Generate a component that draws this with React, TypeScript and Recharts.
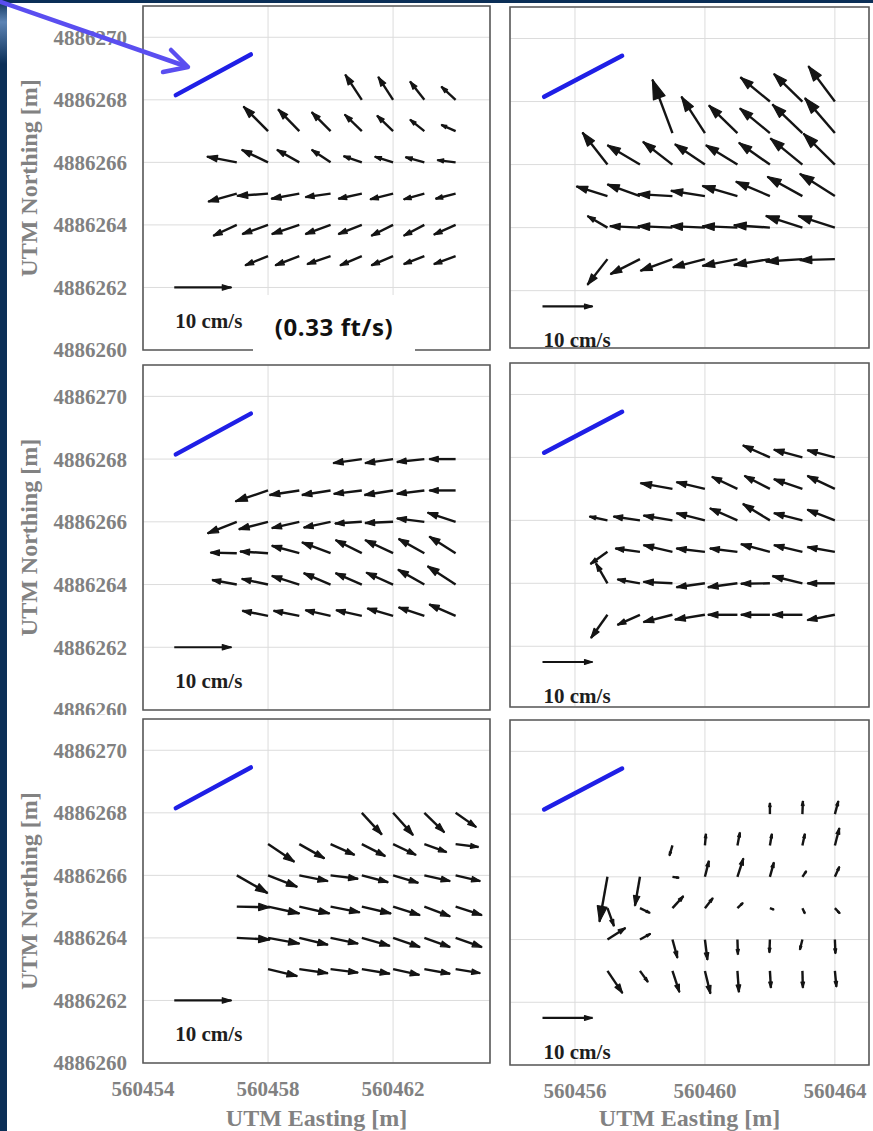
import React from "react";
import {
  ScatterChart,
  Scatter,
  XAxis,
  YAxis,
  CartesianGrid,
  ReferenceLine,
  ReferenceArea,
} from "recharts";

// measurement rows (northing, top to bottom); every row ends at LAST_EASTING, 1 m apart
const ROW_NORTHING = [4886268, 4886267, 4886266, 4886265, 4886264, 4886263];
const LAST_EASTING = 560464;

// velocity components in cm/s (east u, north v), one row per northing
const P1_U = [
  [-2.9, -2.6, -2.5, -2.5],
  [-4.3, -3.7, -3.3, -3.0, -2.8, -2.5, -2.5],
  [-5.2, -4.6, -3.9, -3.3, -3.2, -3.2, -3.3, -3.2],
  [-5.0, -5.4, -4.9, -4.4, -4.1, -4.0, -3.6, -3.5],
  [-4.1, -4.5, -4.8, -4.4, -4.1, -3.8, -3.6, -3.8],
  [-4.0, -4.2, -4.1, -3.8, -3.8, -3.6, -3.8],
];
const P1_V = [
  [4.4, 4.0, 3.2, 2.3],
  [4.3, 3.8, 3.3, 2.9, 2.7, 2.0, 1.1],
  [1.0, 2.2, 2.2, 2.2, 1.1, 1.0, 0.9, 0.4],
  [-1.4, -0.4, -0.9, -0.6, -0.9, -1.0, -1.0, -0.9],
  [-1.9, -1.6, -1.6, -1.6, -1.6, -1.9, -1.9, -1.7],
  [-1.6, -1.6, -1.4, -1.6, -1.6, -1.4, -1.4],
];

const P2_U = [
  [-5.9, -5.7, -5.3],
  [-4.0, -4.7, -5.7, -6.0, -6.0, -6.0],
  [-5.0, -6.5, -5.9, -6.0, -6.3, -6.2, -6.4, -6.3],
  [-6.2, -6.5, -6.9, -6.8, -7.0, -6.8, -7.0, -7.0],
  [-4.0, -6.0, -6.9, -6.8, -7.0, -7.2, -7.3, -7.3],
  [-4.0, -5.9, -6.4, -6.4, -7.0, -7.2, -7.3, -7.0],
];
const P2_V = [
  [5.0, 5.7, 7.3],
  [11.0, 7.5, 5.7, 5.1, 5.9, 7.2],
  [6.6, 4.0, 4.7, 4.2, 4.0, 4.5, 5.4, 6.4],
  [2.0, 2.4, 0.4, 1.1, 2.1, 3.0, 4.0, 4.6],
  [2.4, 0.3, 0.3, 0.3, 0.3, 0.5, 2.4, 2.4],
  [-5.3, -3.1, -2.4, -1.7, -1.4, -1.2, -0.5, -0.2],
];

const P3_U = [
  [-5.0, -4.9, -4.8, -4.6],
  [-5.7, -5.2, -5.0, -4.9, -5.0, -4.8, -4.6],
  [-5.1, -5.1, -4.8, -4.7, -4.7, -4.9, -4.8, -4.9],
  [-4.6, -4.9, -4.8, -5.0, -4.6, -4.9, -4.5, -4.6],
  [-4.3, -4.6, -4.8, -4.7, -4.6, -4.7, -4.6, -4.9],
  [-4.5, -4.5, -4.4, -4.5, -4.5, -4.5, -4.6],
];
const P3_V = [
  [-0.7, -0.7, -0.5, 0],
  [-1.9, -0.8, -0.8, -0.6, -0.8, -0.6, 0],
  [-2.0, -1.3, -1.1, -1.0, -0.3, -0.2, 0.6, 1.6],
  [0.1, 0.3, 1.3, 1.9, 2.3, 2.3, 2.5, 2.9],
  [0.8, 1.0, 1.5, 2.0, 2.0, 2.1, 2.6, 3.2],
  [0.9, 0.9, 1.0, 1.0, 1.3, 1.5, 2.0],
];

const P4_U = [
  [-5.4, -5.7, -5.5],
  [-6.4, -5.7, -5.1, -5.1, -5.7, -5.5],
  [-3.6, -5.3, -5.8, -5.7, -5.5, -5.4, -5.7, -5.5],
  [-3.4, -4.9, -5.8, -5.7, -5.5, -5.8, -5.7, -5.5],
  [-2.3, -4.5, -5.8, -5.7, -5.9, -5.8, -6.0, -5.5],
  [-3.3, -4.5, -5.8, -6.0, -5.9, -5.8, -6.0, -5.5],
];
const P4_V = [
  [2.5, 1.6, 1.5],
  [1.2, 1.4, 2.5, 2.7, 2.0, 2.7],
  [0.8, 0.8, 1.0, 1.5, 2.5, 3.4, 1.5, 2.2],
  [-2.5, 0.7, 1.4, 0.7, 0.7, 1.6, 1.4, 1.0],
  [4.1, 0.8, 0.3, -0.8, -0.8, -0.1, 1.5, 0],
  [-4.8, -2.1, -1.5, -1.0, 0, 0, 0, -1.1],
];

const P5_U = [
  [3.5, 3.5, 3.5, 3.6],
  [4.6, 4.4, 4.2, 4.1, 4.0, 3.9, 4.0],
  [5.4, 5.1, 5.0, 4.8, 4.6, 4.4, 4.5, 4.3],
  [5.8, 5.5, 5.3, 5.1, 5.1, 4.7, 4.5, 4.6],
  [5.8, 5.5, 5.0, 4.8, 4.9, 4.7, 4.5, 4.6],
  [5.1, 5.0, 4.8, 4.9, 4.6, 4.5, 4.3],
];
const P5_V = [
  [-3.8, -3.9, -3.4, -2.5],
  [-3.1, -2.5, -1.9, -2.1, -1.9, -1.4, -0.5],
  [-3.1, -2.0, -1.0, -0.6, -1.2, -1.3, -1.0, -1.0],
  [-0.1, -1.2, -1.2, -1.0, -1.2, -1.5, -1.7, -1.5],
  [-0.3, -1.0, -1.2, -1.0, -1.4, -1.6, -1.6, -1.6],
  [-1.2, -0.7, -0.6, -0.8, -1.0, -0.8, -0.7],
];

const P6_U = [
  [0, 0.1, 0.7],
  [-0.6, 0.2, 0.5, 0.4, 0.5, 0.9],
  [-1.6, -1.0, 1.3, 0.8, 1.2, 0.8, 0.8, 0.9],
  [1.3, 2.0, 2.2, 1.6, 1.1, 0.8, 0.5, 1.0],
  [3.6, 2.1, 1.0, 0.5, 0.1, -0.1, -0.5, 0.1],
  [3.0, 1.6, 1.4, 1.1, 0.3, 0.2, 0.1, 0.3],
];
const P6_V = [
  [2.3, 2.7, 2.7],
  [-2.1, 2.4, 2.7, 2.4, 2.4, 3.6],
  [-9.3, -6.0, -0.2, 3.3, 3.8, 3.0, 1.2, 2.1],
  [-3.7, -1.0, 2.5, 2.1, 1.1, -0.3, -1.1, -1.1],
  [2.4, 1.2, -3.8, -4.2, -3.1, -2.7, -2.1, -2.9],
  [-4.6, -2.3, -4.4, -4.7, -4.4, -3.5, -3.5, -3.3],
];

// reference arrow
const REF_SPEED = 10; // cm/s
const REF_LABEL = "10 cm/s";
const REF_EASTING = 560455;
// arrow length in metres per cm/s, per panel (quiver autoscale)
const SCALES = [0.183, 0.154, 0.183, 0.154, 0.183, 0.154];
const REF_NORTHING = [4886262, 4886261.5, 4886262, 4886261.5, 4886262, 4886261.5];

// bank line shown in every panel
const BANK_E = [560455.05, 560457.45];
const BANK_N = [4886268.15, 4886269.45];

const X_TICKS_LEFT = [560454, 560458, 560462];
const X_TICKS_RIGHT = [560456, 560460, 560464];
const Y_TICKS_LEFT = [4886260, 4886262, 4886264, 4886266, 4886268, 4886270];
const Y_TICKS_RIGHT = [4886262, 4886264, 4886266, 4886268, 4886270];

const U_SETS = [P1_U, P2_U, P3_U, P4_U, P5_U, P6_U];
const V_SETS = [P1_V, P2_V, P3_V, P4_V, P5_V, P6_V];

// panel boxes (left column / right column, three rows)
const LAYOUT = [
  { left: 0, top: 0, width: 492, height: 362, margin: { top: 6, right: 2, bottom: 12, left: 0 }, yMin: 4886260 },
  { left: 505, top: 0, width: 368, height: 362, margin: { top: 7, right: 4, bottom: 14, left: 5 }, yMin: 4886260.18 },
  { left: 0, top: 358, width: 492, height: 362, margin: { top: 7, right: 2, bottom: 10, left: 0 }, yMin: 4886260 },
  { left: 505, top: 358, width: 368, height: 362, margin: { top: 5, right: 4, bottom: 13, left: 5 }, yMin: 4886260.07 },
  { left: 0, top: 715, width: 492, height: 416, margin: { top: 4, right: 2, bottom: 0, left: 0 }, yMin: 4886260 },
  { left: 505, top: 715, width: 368, height: 416, margin: { top: 5, right: 4, bottom: 0, left: 5 }, yMin: 4886260 },
];

const SERIF = "'Liberation Serif', 'Times New Roman', serif";
const GREY_TEXT = "#818181";

const NoTick = () => <g />;

function buildArrows(u: number[][], v: number[][], scale: number) {
  const out: { x: number; y: number; x2: number; y2: number }[] = [];
  u.forEach((row, i) => {
    const start = LAST_EASTING - row.length + 1;
    row.forEach((du, j) => {
      const x = start + j;
      const y = ROW_NORTHING[i];
      out.push({ x, y, x2: x + du * scale, y2: y + v[i][j] * scale });
    });
  });
  return out;
}

// quiver-style arrow: shaft plus a narrow head
function Arrow(props: any) {
  const { x1, y1, x2, y2, head = 0.34, spread = 0.32, color = "#141414", width = 2.4, label } = props;
  const du = x2 - x1;
  const dv = y2 - y1;
  const h1x = x2 - head * (du + spread * dv);
  const h1y = y2 - head * (dv - spread * du);
  const h2x = x2 - head * (du - spread * dv);
  const h2y = y2 - head * (dv + spread * du);
  return (
    <g>
      <line x1={x1} y1={y1} x2={x2} y2={y2} stroke={color} strokeWidth={width} />
      <polygon
        points={`${h1x},${h1y} ${x2},${y2} ${h2x},${h2y}`}
        fill={color}
        stroke={color}
        strokeWidth={1.2}
        strokeLinejoin="round"
      />
      {label && (
        <text
          x={x1 + 1}
          y={y1 + 41}
          fontFamily={SERIF}
          fontWeight="bold"
          fontSize={21}
          fill="#1e1e1e"
        >
          {label}
        </text>
      )}
    </g>
  );
}

function QuiverPanel({ index }: { index: number }) {
  const box = LAYOUT[index];
  const isLeft = index % 2 === 0;
  const isBottom = index >= 4;
  const scale = SCALES[index];
  const arrows = buildArrows(U_SETS[index], V_SETS[index], scale);
  const xDomain = isLeft ? [560454, 560465.1] : [560454, 560465.05];
  const yDomain = [box.yMin, 4886271];
  const tickStyle = { fontSize: 21, fontWeight: 700, fill: GREY_TEXT, fontFamily: SERIF };
  const titleStyle = { fontSize: 24, fontWeight: 700, fill: "#828282", fontFamily: SERIF, textAnchor: "middle" as const };

  return (
    <div
      style={{
        position: "absolute",
        left: box.left,
        top: box.top,
        width: box.width,
        height: box.height,
        background: "#ffffff",
      }}
    >
      <ScatterChart width={box.width} height={box.height} margin={box.margin}>
        <CartesianGrid stroke="#dcdcdc" strokeWidth={1} />
        <XAxis
          type="number"
          dataKey="x"
          domain={xDomain}
          allowDataOverflow
          ticks={isLeft ? X_TICKS_LEFT : X_TICKS_RIGHT}
          interval={0}
          axisLine={false}
          tickLine={false}
          height={isBottom ? (isLeft ? 68 : 66) : 0}
          tick={isBottom ? tickStyle : NoTick}
          tickMargin={12}
          label={
            isBottom
              ? { value: "UTM Easting [m]", position: "insideBottom", offset: 5, style: titleStyle }
              : undefined
          }
        />
        <YAxis
          type="number"
          dataKey="y"
          domain={yDomain}
          allowDataOverflow
          ticks={isLeft ? Y_TICKS_LEFT : Y_TICKS_RIGHT}
          interval={0}
          axisLine={false}
          tickLine={false}
          width={isLeft ? 143 : 0}
          tick={isLeft ? tickStyle : NoTick}
          tickMargin={10}
          label={
            isLeft
              ? { value: "UTM Northing [m]", angle: -90, position: "insideLeft", offset: 28, style: titleStyle }
              : undefined
          }
        />
        <ReferenceArea
          x1={xDomain[0]}
          x2={xDomain[1]}
          y1={yDomain[0]}
          y2={yDomain[1]}
          fill="none"
          fillOpacity={0}
          stroke="#5a5a5a"
          strokeWidth={1.6}
          ifOverflow="visible"
        />
        <Scatter data={arrows} shape={() => <g />} isAnimationActive={false} />
        <ReferenceLine
          segment={[
            { x: BANK_E[0], y: BANK_N[0] },
            { x: BANK_E[1], y: BANK_N[1] },
          ]}
          stroke="#1f1fe6"
          strokeWidth={4.5}
          strokeLinecap="round"
          ifOverflow="visible"
        />
        {arrows.map((a, i) => (
          <ReferenceLine
            key={i}
            segment={[
              { x: a.x, y: a.y },
              { x: a.x2, y: a.y2 },
            ]}
            ifOverflow="visible"
            shape={(p: any) => <Arrow {...p} />}
          />
        ))}
        <ReferenceLine
          segment={[
            { x: REF_EASTING, y: REF_NORTHING[index] },
            { x: REF_EASTING + REF_SPEED * scale, y: REF_NORTHING[index] },
          ]}
          ifOverflow="visible"
          shape={(p: any) => <Arrow {...p} head={0.16} spread={0.3} width={2.2} label={REF_LABEL} />}
        />
      </ScatterChart>
    </div>
  );
}

export default function App() {
  return (
    <div
      style={{
        position: "absolute",
        left: 0,
        top: 0,
        width: 873,
        height: 1131,
        background: "#ffffff",
        overflow: "hidden",
      }}
    >
      {[0, 1, 2, 3, 4, 5].map((i) => (
        <QuiverPanel key={i} index={i} />
      ))}

      {/* unit conversion note over the first panel */}
      <div
        style={{
          position: "absolute",
          left: 253,
          top: 295,
          width: 162,
          height: 62,
          background: "#ffffff",
          display: "flex",
          alignItems: "center",
          justifyContent: "center",
          fontFamily: "'Open Sans', sans-serif",
          fontWeight: 700,
          fontSize: 24,
          letterSpacing: 0.6,
          color: "#111111",
        }}
      >
        (0.33 ft/s)
      </div>

      {/* slide frame */}
      <div
        style={{
          position: "absolute",
          left: 0,
          top: 0,
          width: 7,
          height: 1131,
          background: "linear-gradient(to bottom, #0b2f57 0px, #5d84b4 22px, #0b2f57 64px, #0b2f57 100%)",
        }}
      />
      <div style={{ position: "absolute", left: 0, top: 0, width: 873, height: 3, background: "#0b2f57" }} />

      {/* callout arrow pointing at the bank line */}
      <svg
        width={873}
        height={1131}
        style={{ position: "absolute", left: 0, top: 0, pointerEvents: "none" }}
      >
        <line x1={-2} y1={1} x2={185} y2={66} stroke="#5a4ef0" strokeWidth={4.5} strokeLinecap="round" />
        <polyline
          points="163,72 188,67 171,50"
          fill="none"
          stroke="#5a4ef0"
          strokeWidth={4.5}
          strokeLinecap="round"
          strokeLinejoin="round"
        />
      </svg>
    </div>
  );
}
